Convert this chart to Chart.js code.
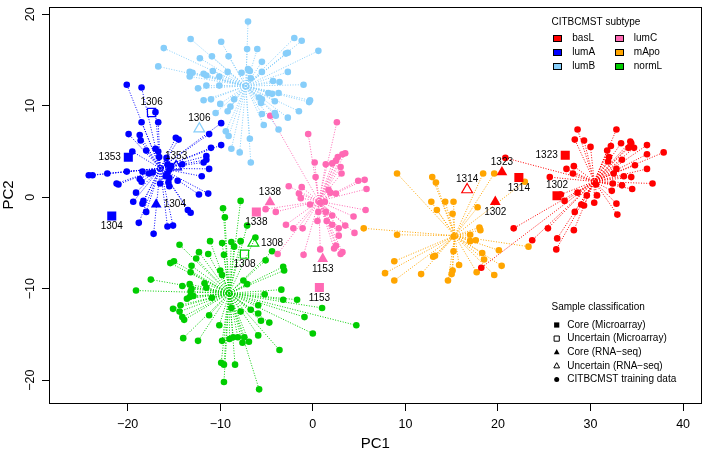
<!DOCTYPE html>
<html>
<head>
  <meta charset="utf-8">
  <script src="https://cdn.jsdelivr.net/npm/chart.js@4.4.0/dist/chart.umd.min.js"></script>
  <style>
    html, body { margin: 0; padding: 0; background: #fff; }
  </style>
</head>
<body>
<canvas id="pca" width="709" height="450"></canvas>
<script>
  // axis ticks
  const xTicks = [-20, -10, 0, 10, 20, 30, 40];
  const yTicks = [-20, -10, 0, 10, 20];

  // subtypes and their centroids in PC space
  const subtypes = ['basL', 'lumA', 'lumB', 'lumC', 'mApo', 'normL'];
  const centroids = [[30.4, 1.72], [-16.48, 3.16], [-7.24, 12.15], [0.65, -0.43], [15.34, -4.2], [-9.03, -10.5]];

  // training samples per subtype [PC1, PC2]
  const basL = [[20.8,4.3],[28.6,7.4],[32.8,7.4],[28.3,6.3],[29.3,6.2],[30.0,5.5],[32.2,5.6],[31.8,5.1],[33.3,5.9],[34.3,6.1],[34.4,5.9],[34.1,5.4],[34.7,5.4],[36.1,5.7],[37.9,4.9],[36.1,4.7],[36.1,3.1],[36.7,1.5],[28.2,3.4],[28.1,2.6],[25.6,2.2],[32.0,4.4],[31.9,3.9],[33.4,4.1],[34.8,3.5],[33.6,2.3],[32.8,3.1],[32.5,2.6],[34.4,2.2],[32.4,1.5],[33.4,1.3],[34.5,0.9],[32.3,0.7],[30.6,1.4],[30.7,0.2],[29.6,0.2],[32.8,-0.7],[32.9,-1.9],[30.4,-0.6],[29.3,-0.9],[29.0,-0.8],[28.3,-1.6],[27.2,-0.4],[28.6,0.5],[27.4,3.1],[26.8,0.3],[25.4,-3.4],[28.2,-3.6],[21.7,-3.4],[23.7,-4.7],[26.4,-4.5],[26.3,-5.7],[18.2,-7.7]];
  const lumA = [[-20.1,12.3],[-18.5,12.0],[-17.0,9.3],[-18.5,8.2],[-16.7,8.2],[-19.9,6.9],[-18.7,6.8],[-14.8,6.5],[-14.5,6.3],[-9.9,8.1],[-11.2,6.9],[-9.9,5.7],[-11.0,5.4],[-18.6,6.2],[-18.0,5.1],[-17.0,5.3],[-16.7,5.0],[-15.8,4.3],[-16.6,4.4],[-19.5,5.0],[-11.5,4.5],[-11.5,4.1],[-11.8,3.8],[-14.1,3.6],[-11.2,3.1],[-12.0,2.3],[-24.2,2.4],[-23.8,2.4],[-22.2,2.6],[-21.2,1.5],[-21.0,1.4],[-20.1,2.8],[-18.4,2.8],[-17.7,2.6],[-17.3,2.7],[-18.7,2.0],[-18.5,1.7],[-16.5,1.5],[-15.9,2.3],[-15.6,1.6],[-15.5,1.2],[-14.6,1.8],[-12.3,0.3],[-11.3,0.4],[-19.1,0.5],[-19.4,-0.5],[-18.4,-0.7],[-18.3,-0.4],[-18.0,-1.6],[-13.5,-1.4],[-13.2,-1.7],[-18.8,-2.8],[-17.2,-4.0],[-15.7,-3.2],[-15.1,-3.1],[-15.7,3.6],[-15.5,3.0],[-15.3,3.4],[-15.7,2.6],[-15.5,2.1]];
  const lumB = [[-7.0,19.2],[-13.2,17.3],[-9.9,17.0],[-2.0,17.4],[-1.2,17.1],[-16.1,16.3],[-7.1,16.2],[-6.0,16.2],[-2.7,15.8],[-2.9,15.7],[0.6,16.0],[-12.2,15.2],[-10.9,15.4],[-9.1,15.4],[-5.5,14.8],[-16.7,14.3],[-13.3,13.7],[-13.0,13.6],[-13.3,13.2],[-11.8,13.5],[-11.5,13.3],[-10.8,13.8],[-10.1,13.2],[-9.2,13.7],[-7.7,13.6],[-7.0,14.0],[-6.8,13.8],[-6.7,13.0],[-5.5,13.7],[-2.7,13.7],[-4.3,12.7],[-3.6,12.6],[-1.0,12.3],[-12.4,11.9],[-11.5,12.2],[-10.1,12.2],[-4.8,11.4],[-4.4,11.3],[-3.7,11.4],[-5.8,10.9],[-5.5,10.7],[-5.6,10.3],[-4.1,10.5],[-11.8,10.6],[-11.0,10.7],[-10.0,10.2],[-8.5,10.7],[-8.9,9.9],[-9.2,9.4],[-10.5,9.2],[-5.5,9.1],[-4.1,9.2],[-4.0,8.9],[-2.7,8.7],[-1.5,9.4],[-0.4,10.4],[-0.3,10.6],[-5.3,7.9],[-3.7,7.4],[-9.4,7.2],[-9.1,6.7],[-6.8,6.4],[-8.8,5.3],[-7.9,4.9],[-6.7,3.8]];
  const lumC = [[-4.6,8.9],[2.6,8.2],[-0.5,6.9],[3.5,4.8],[3.2,4.7],[2.7,4.4],[2.5,4.0],[2.1,3.7],[1.4,3.6],[3.0,3.3],[3.1,2.6],[0.2,3.8],[0.3,2.2],[5.6,1.9],[4.9,1.8],[5.8,0.9],[-2.6,1.2],[-1.2,1.1],[-1.5,0.4],[-1.3,-0.1],[-0.3,-0.8],[1.3,-0.5],[1.7,0.8],[1.9,0.5],[2.5,0.4],[0.6,-1.6],[1.4,-1.6],[2.1,-2.0],[5.7,-1.4],[4.4,-2.1],[-2.9,-3.0],[-2.1,-3.4],[-1.1,-3.4],[0.5,-2.6],[1.5,-2.6],[2.1,-3.0],[2.8,-3.4],[3.5,-3.1],[4.5,-3.9],[2.8,-4.2],[2.5,-5.3],[3.2,-6.0],[3.0,-6.2],[2.3,-5.6],[-1.0,-6.3],[-3.8,-6.2],[0.8,-5.7],[-5.1,-1.3],[-4.0,-1.6],[0.8,-0.6]];
  const mApo = [[9.1,2.6],[12.9,2.2],[13.3,1.6],[18.4,2.6],[19.6,2.6],[22.9,1.7],[12.8,-0.5],[14.3,-0.5],[15.2,-0.5],[13.4,-1.4],[15.1,-1.8],[17.8,-1.1],[5.5,-3.4],[9.1,-4.1],[17.0,-4.1],[17.0,-4.8],[17.6,-4.7],[18.0,-3.3],[18.1,-3.6],[15.2,-5.9],[18.3,-6.1],[20.1,-5.8],[18.5,-6.8],[13.2,-6.4],[13.0,-6.5],[8.8,-7.0],[7.8,-8.3],[8.8,-9.1],[11.7,-8.4],[14.6,-9.1],[15.1,-8.0],[15.0,-8.4],[15.8,-7.4],[17.7,-8.2],[19.6,-8.5],[20.4,-7.5],[23.3,-5.4],[15.2,-4.3]];
  const normL = [[-7.8,-0.4],[-9.7,-1.2],[-9.5,-2.2],[-7.1,-3.1],[-6.2,-4.4],[-11.1,-4.8],[-9.8,-5.0],[-8.8,-4.9],[-8.5,-5.4],[-7.8,-4.8],[-14.4,-5.2],[-12.3,-6.0],[-11.3,-6.2],[-9.6,-6.3],[-4.4,-5.9],[-5.1,-6.9],[-3.2,-7.6],[-3.1,-8.0],[-15.4,-7.2],[-15.0,-7.0],[-12.6,-6.7],[-13.1,-7.5],[-13.2,-8.2],[-10.0,-8.0],[-9.8,-8.5],[-7.5,-9.1],[-7.1,-9.5],[-17.5,-9.0],[-19.1,-10.2],[-14.1,-9.7],[-13.3,-9.5],[-13.1,-10.0],[-13.2,-10.3],[-13.3,-10.9],[-13.6,-11.1],[-12.9,-10.8],[-11.7,-9.4],[-11.5,-9.9],[-10.9,-11.0],[-5.2,-10.6],[-3.4,-10.1],[-3.2,-11.2],[-1.7,-11.2],[1.0,-12.1],[-15.1,-12.2],[-14.3,-11.8],[-14.4,-12.5],[-14.1,-13.1],[-13.9,-13.4],[-8.8,-12.1],[-7.8,-12.5],[-6.7,-12.3],[-5.9,-12.7],[-5.9,-11.8],[-5.6,-13.5],[-4.7,-13.7],[-0.9,-13.1],[4.7,-14.0],[-11.2,-12.9],[-10.1,-14.0],[-5.9,-15.1],[0.0,-14.9],[-14.0,-15.4],[-12.4,-15.7],[-9.8,-15.7],[-9.0,-15.5],[-8.6,-15.3],[-8.1,-15.3],[-7.6,-15.9],[-7.4,-15.3],[-6.9,-15.8],[-3.6,-16.7],[-9.9,-18.1],[-9.6,-18.3],[-8.4,-18.3],[-9.6,-20.2],[-5.8,-21.0]];
  const trainingSets = [basL, lumA, lumB, lumC, mApo, normL];

  // classified samples
  const specialX = [-17.42, -19.93, -14.77, -16.92, -21.72, -12.26, -4.63, -6.10, 1.07, 0.71, -6.42, -7.38, 16.67, 20.43, 22.26, 19.71, 27.27, 26.38];
  const specialY = [9.27, 4.38, 3.34, -0.79, -2.05, 7.48, -0.55, -1.62, -6.73, -9.86, -5.0, -6.22, 0.83, 2.73, 2.16, -0.50, 4.60, 0.17];
  const specialSubtype = [1, 1, 1, 1, 1, 2, 3, 3, 3, 3, 5, 5, 0, 0, 0, 0, 0, 0];
  const specialKind = ['uncMA', 'coreMA', 'uncRNA', 'coreRNA', 'coreMA', 'uncRNA', 'coreRNA', 'coreMA', 'coreRNA', 'coreMA', 'uncRNA', 'uncMA', 'uncRNA', 'coreRNA', 'coreMA', 'coreRNA', 'coreMA', 'coreMA'];
  const specialLabel = ['1306', '1353', '1353', '1304', '1304', '1306', '1338', '1338', '1153', '1153', '1308', '1308', '1314', '1323', '1314', '1302', '1323', '1302'];
  const specialSide = ['above', 'left', 'above', 'right', 'below', 'above', 'above', 'below', 'below', 'below', 'right', 'below', 'above', 'above', 'below', 'below', 'left', 'above'];

  const classLabels = ['Core (Microarray)', 'Uncertain (Microarray)', 'Core (RNA\u2212seq)', 'Uncertain (RNA\u2212seq)', 'CITBCMST training data'];
  const classKinds = ['coreMA', 'uncMA', 'coreRNA', 'uncRNA', 'train'];

  const colors = ['#ff0000', '#0000ff', '#87cefa', '#ff69b4', '#ffa500', '#00cd00'];
  const FONT = "'Liberation Sans', Arial, Helvetica, sans-serif";

  function fmtTick(v) {
    return v < 0 ? '\u2212' + Math.abs(v) : String(v);
  }

  const datasets = [];
  subtypes.forEach((name, i) => {
    const c = centroids[i];
    const spokes = [];
    trainingSets[i].forEach(p => {
      spokes.push({x: c[0], y: c[1]}, {x: p[0], y: p[1]}, {x: c[0], y: null});
    });
    datasets.push({
      label: name + ' links', data: spokes, showLine: true, pointRadius: 0,
      borderColor: colors[i], borderWidth: 1, borderDash: [1, 1.6], order: 4
    });
    datasets.push({
      label: name, data: trainingSets[i].map(p => ({x: p[0], y: p[1]})),
      pointRadius: 3.3, backgroundColor: colors[i], borderWidth: 0, order: 3
    });
    datasets.push({
      label: name + ' centroid', data: [{x: c[0], y: c[1]}],
      pointRadius: 2.5, backgroundColor: 'rgba(0,0,0,0)', borderColor: colors[i], borderWidth: 1, order: 3
    });
  });

  specialX.forEach((sx, i) => {
    const k = specialKind[i];
    const filled = k.startsWith('core');
    const col = colors[specialSubtype[i]];
    datasets.push({
      label: specialLabel[i], data: [{x: sx, y: specialY[i]}],
      pointStyle: k.endsWith('MA') ? 'rect' : 'triangle',
      pointRadius: k.endsWith('MA') ? (filled ? 6.4 : 5.8) : 6.2,
      backgroundColor: filled ? col : 'rgba(0,0,0,0)',
      borderColor: col, borderWidth: filled ? 0 : 1.2, order: 1
    });
  });

  function drawMarker(ctx, kind, x, y, s) {
    ctx.beginPath();
    if (kind.endsWith('MA')) {
      ctx.rect(x - s / 2, y - s / 2, s, s);
    } else if (kind.endsWith('RNA')) {
      ctx.moveTo(x, y - s * 0.6);
      ctx.lineTo(x + s * 0.55, y + s * 0.4);
      ctx.lineTo(x - s * 0.55, y + s * 0.4);
      ctx.closePath();
    } else {
      ctx.arc(x, y, s / 2, 0, Math.PI * 2);
    }
    if (kind.startsWith('unc')) ctx.stroke(); else ctx.fill();
  }

  const annotations = {
    id: 'annotations',
    afterDatasetsDraw(chart) {
      const {ctx, chartArea: a, scales: {x, y}} = chart;
      ctx.save();
      // frame
      ctx.strokeStyle = '#000';
      ctx.lineWidth = 1;
      ctx.strokeRect(Math.round(a.left) + 0.5, Math.round(a.top) + 0.5,
        Math.round(a.right - a.left) - 1, Math.round(a.bottom - a.top) - 1);

      // sample labels
      ctx.fillStyle = '#000';
      ctx.font = '10px ' + FONT;
      ctx.textAlign = 'center';
      ctx.textBaseline = 'middle';
      specialLabel.forEach((lab, i) => {
        const px = x.getPixelForValue(specialX[i]);
        const py = y.getPixelForValue(specialY[i]);
        const w = ctx.measureText(lab).width;
        let lx = px, ly = py;
        if (specialSide[i] === 'above') ly = py - 10.5;
        if (specialSide[i] === 'below') ly = py + 10.5;
        if (specialSide[i] === 'left') lx = px - (w / 2 + 7.5);
        if (specialSide[i] === 'right') lx = px + (w / 2 + 7.5);
        ctx.fillText(lab, lx, ly);
      });

      // legend: subtype
      ctx.textAlign = 'left';
      ctx.fillText('CITBCMST subtype', 551.5, 22);
      subtypes.forEach((name, i) => {
        const col = Math.floor(i / 3), row = i % 3;
        const bx = 557.5 + col * 61.5, by = 38.5 + row * 13.8;
        ctx.fillStyle = colors[i];
        ctx.fillRect(Math.round(bx - 4.5), Math.round(by - 3.5), 9, 7);
        ctx.strokeStyle = '#000';
        ctx.strokeRect(Math.round(bx - 4.5) + 0.5, Math.round(by - 3.5) + 0.5, 8, 6);
        ctx.fillStyle = '#000';
        ctx.fillText(name, bx + 14.8, by);
      });

      // legend: classification
      ctx.fillText('Sample classification', 551.5, 307.5);
      ctx.strokeStyle = '#000';
      ctx.lineWidth = 1;
      classLabels.forEach((lab, i) => {
        const ly = 325 + i * 13.6;
        drawMarker(ctx, classKinds[i], 556.7, ly, classKinds[i] === 'train' ? 5 : 5.2);
        ctx.fillText(lab, 567.3, ly);
      });

      // y tick labels, rotated like base R axes
      ctx.font = '12.5px ' + FONT;
      ctx.textAlign = 'center';
      yTicks.forEach(v => {
        ctx.save();
        ctx.translate(31, y.getPixelForValue(v));
        ctx.rotate(-Math.PI / 2);
        ctx.fillText(fmtTick(v), 0, 0);
        ctx.restore();
      });

      // y-axis title
      ctx.font = '15px ' + FONT;
      ctx.translate(8.5, 195);
      ctx.rotate(-Math.PI / 2);
      ctx.fillText('PC2', 0, 0);
      ctx.restore();
    }
  };

  new Chart(document.getElementById('pca'), {
    type: 'scatter',
    data: {datasets: datasets},
    options: {
      responsive: false,
      devicePixelRatio: 1,
      animation: false,
      events: [],
      layout: {padding: {left: 0, right: 4, top: 2, bottom: 0}},
      plugins: {legend: {display: false}, tooltip: {enabled: false}},
      scales: {
        x: {
          type: 'linear', min: -28.5, max: 42.0,
          afterBuildTicks: s => { s.ticks = xTicks.map(v => ({value: v})); },
          afterFit: s => { s.height = 46; s.paddingLeft = 0; s.paddingRight = 0; },
          grid: {display: true, drawOnChartArea: false, drawTicks: true, tickLength: 7, color: '#000'},
          border: {display: false},
          ticks: {color: '#000', font: {size: 12.5, family: FONT}, padding: 6, maxRotation: 0, autoSkip: false, callback: v => fmtTick(v)},
          title: {display: true, text: 'PC1', color: '#000', font: {size: 15, family: FONT}, padding: {top: 0, bottom: -3}}
        },
        y: {
          type: 'linear', min: -22.6, max: 20.75,
          afterBuildTicks: s => { s.ticks = yTicks.map(v => ({value: v})); },
          afterFit: s => { s.width = 49; s.paddingTop = 0; s.paddingBottom = 0; },
          grid: {display: true, drawOnChartArea: false, drawTicks: true, tickLength: 7, color: '#000'},
          border: {display: false},
          ticks: {display: false}
        }
      }
    },
    plugins: [annotations]
  });
</script>
</body>
</html>
